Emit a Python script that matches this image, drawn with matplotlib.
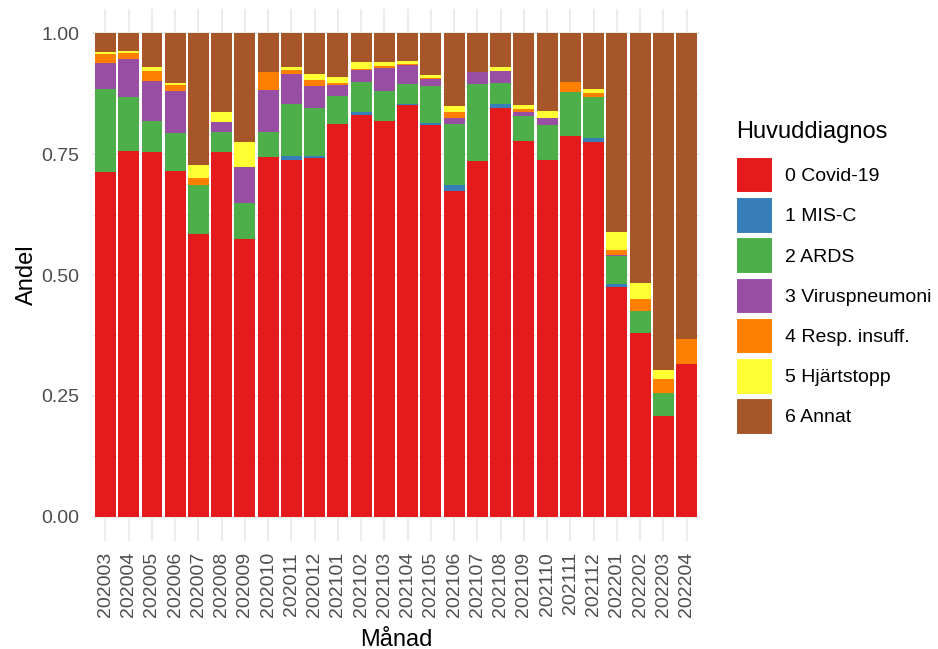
import matplotlib.pyplot as plt
import numpy as np
from matplotlib.patches import Patch

plt.rcParams['font.family'] = ['Liberation Sans', 'DejaVu Sans']

# Andel per månad och huvuddiagnos
manader = [
    "202003", "202004", "202005", "202006", "202007", "202008", "202009",
    "202010", "202011", "202012", "202101", "202102", "202103", "202104",
    "202105", "202106", "202107", "202108", "202109", "202110", "202111",
    "202112", "202201", "202202", "202203", "202204",
]
covid = [0.713, 0.757, 0.754, 0.716, 0.585, 0.754, 0.575, 0.744, 0.738, 0.742,
         0.813, 0.831, 0.819, 0.852, 0.811, 0.674, 0.736, 0.845, 0.777, 0.738,
         0.787, 0.775, 0.476, 0.381, 0.209, 0.316]
misc = [0, 0, 0, 0, 0, 0, 0, 0, 0.008, 0.004,
        0, 0.006, 0, 0.001, 0.004, 0.013, 0, 0.008, 0, 0,
        0, 0.008, 0.005, 0, 0, 0]
ards = [0.172, 0.111, 0.065, 0.078, 0.102, 0.041, 0.074, 0.051, 0.107, 0.099,
        0.057, 0.062, 0.062, 0.043, 0.075, 0.125, 0.159, 0.044, 0.052, 0.073,
        0.091, 0.085, 0.058, 0.045, 0.048, 0]
virus = [0.054, 0.079, 0.082, 0.087, 0, 0.021, 0.075, 0.087, 0.062, 0.045,
         0.023, 0.025, 0.047, 0.038, 0.016, 0.012, 0.024, 0.025, 0.008, 0.013,
         0, 0, 0.003, 0, 0, 0]
resp = [0.018, 0.012, 0.021, 0.012, 0.013, 0, 0, 0.037, 0.009, 0.013,
        0.004, 0.002, 0.004, 0.002, 0.002, 0.013, 0, 0, 0.007, 0,
        0.021, 0.009, 0.010, 0.025, 0.029, 0.052]
hjart = [0.005, 0.004, 0.008, 0.004, 0.028, 0.021, 0.051, 0, 0.006, 0.012,
         0.013, 0.014, 0.008, 0.007, 0.006, 0.012, 0, 0.008, 0.008, 0.015,
         0, 0.008, 0.037, 0.033, 0.018, 0]
annat = [0.038, 0.037, 0.070, 0.103, 0.272, 0.163, 0.225, 0.081, 0.070, 0.085,
         0.090, 0.060, 0.060, 0.057, 0.086, 0.151, 0.081, 0.070, 0.148, 0.161,
         0.101, 0.115, 0.411, 0.516, 0.696, 0.632]

diagnoser = ["0 Covid-19", "1 MIS-C", "2 ARDS", "3 Viruspneumoni",
             "4 Resp. insuff.", "5 Hjärtstopp", "6 Annat"]
serier = [covid, misc, ards, virus, resp, hjart, annat]
farger = ["#E41A1C", "#377EB8", "#4DAF4A", "#984EA3",
          "#FF7F00", "#FFFF33", "#A65628"]

fig = plt.figure(figsize=(9.38, 6.49), dpi=100)
ax = fig.add_axes([0.0976, 0.1664, 0.6492, 0.8196])

x = np.arange(1, len(manader) + 1)
bottom = np.zeros(len(manader))
for vals, col in zip(serier, farger):
    vals = np.array(vals)
    ax.bar(x, vals, width=0.9, bottom=bottom, color=col, linewidth=0, zorder=3)
    bottom += vals

ax.set_xlim(0.4, len(manader) + 0.6)
ax.set_ylim(-0.05, 1.05)
ax.set_xticks(x)
ax.set_xticklabels(manader, rotation=90, fontsize=14, color="#4D4D4D")
ax.set_yticks([0, 0.25, 0.5, 0.75, 1.0])
ax.set_yticklabels(["0.00", "0.25", "0.50", "0.75", "1.00"],
                   fontsize=14, color="#4D4D4D")
ax.set_yticks([0.125, 0.375, 0.625, 0.875], minor=True)
ax.tick_params(axis="both", which="both", length=0)
ax.tick_params(axis="x", pad=8)
ax.tick_params(axis="y", pad=9)

ax.grid(True, which="major", color="#EBEBEB", linewidth=1.3, zorder=0)
ax.grid(True, which="minor", axis="y", color="#EBEBEB", linewidth=0.7, zorder=0)
for s in ax.spines.values():
    s.set_visible(False)

ax.set_xlabel("Månad", fontsize=17, labelpad=8)
ax.set_ylabel("Andel", fontsize=17, labelpad=2)

handles = [Patch(facecolor=c, edgecolor="white", linewidth=1.5) for c in farger]
leg = fig.legend(handles, diagnoser, loc="upper left",
                 bbox_to_anchor=(736 / 938, 1 - 121 / 649),
                 frameon=False, fontsize=14, title="Huvuddiagnos",
                 title_fontsize=17, alignment="left",
                 handlelength=1.9, handleheight=2.5, handletextpad=0.6,
                 labelspacing=0.2, borderpad=0, borderaxespad=0)
leg._legend_box.sep = 10

fig.savefig("out.png", dpi=100)
